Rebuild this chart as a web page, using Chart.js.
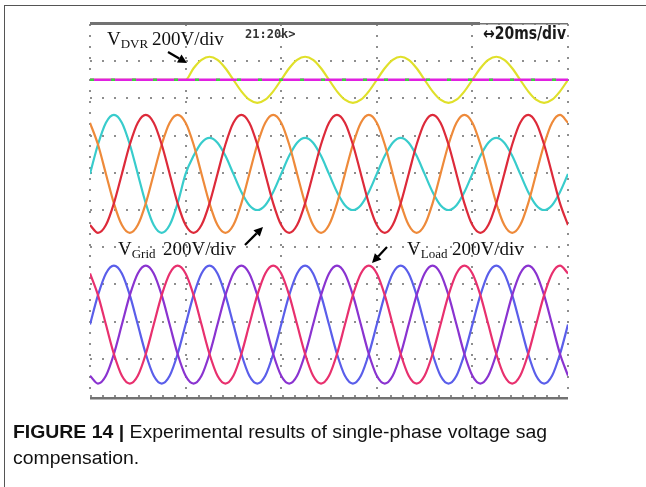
<!DOCTYPE html>
<html>
<head>
<meta charset="utf-8">
<script src="https://cdn.jsdelivr.net/npm/chart.js@4.4.1/dist/chart.umd.min.js"></script>
<style>
  html, body { margin: 0; padding: 0; background: #fff; }
  #wrap { position: relative; width: 646px; height: 487px; overflow: hidden; }
  #frame { position: absolute; left: 4px; top: 5px; width: 700px; height: 600px; border-top: 1px solid #555; border-left: 1px solid #555; }
  canvas { position: absolute; left: 0; top: 0; }
  .cap { position: absolute; left: 13px; font-family: "Liberation Sans", Arial, sans-serif; font-size: 18px; line-height: 20px; color: #111; white-space: nowrap; transform-origin: 0 0; }
</style>
</head>
<body>
<div id="wrap">
  <div id="frame"></div>
  <canvas id="scope" width="646" height="487"></canvas>
  <div class="cap" id="cap1" style="top:422px"><b>FIGURE 14 |</b> Experimental results of single-phase voltage sag</div>
  <div class="cap" id="cap2" style="top:448px">compensation.</div>
</div>
<script>
// time axis, ms (20 ms/div, 5 div)
const timeMs = [0, 1.67, 3.33, 5, 6.67, 8.33, 10, 11.67, 13.33, 15, 16.67, 18.33,
  20, 21.67, 23.33, 25, 26.67, 28.33, 30, 31.67, 33.33, 35, 36.67, 38.33,
  40, 41.67, 43.33, 45, 46.67, 48.33, 50, 51.67, 53.33, 55, 56.67, 58.33,
  60, 61.67, 63.33, 65, 66.67, 68.33, 70, 71.67, 73.33, 75, 76.67, 78.33,
  80, 81.67, 83.33, 85, 86.67, 88.33, 90, 91.67, 93.33, 95, 96.67, 98.33, 100];

// V_DVR (V) - zero until the sag starts at 20 ms
const dvrVolts = [0, 0, 0, 0, 0, 0, 0, 0, 0, 0, 0, 0,
  0, 62, 107, 124, 107, 62, 0, -62, -107, -124, -107, -62,
  0, 62, 107, 124, 107, 62, 0, -62, -107, -124, -107, -62,
  0, 62, 107, 124, 107, 62, 0, -62, -107, -124, -107, -62,
  0, 62, 107, 124, 107, 62, 0, -62, -107, -124, -107, -62, 0];

// V_Grid phases (V) - phase A sags after 20 ms
const gridPhaseA = [0, 158, 275, 317, 275, 158, 0, -158, -275, -317, -275, -158,
  0, 97, 168, 194, 168, 97, 0, -97, -168, -194, -168, -97,
  0, 97, 168, 194, 168, 97, 0, -97, -168, -194, -168, -97,
  0, 97, 168, 194, 168, 97, 0, -97, -168, -194, -168, -97,
  0, 97, 168, 194, 168, 97, 0, -97, -168, -194, -168, -97, 0];
const gridPhaseB = [-275, -317, -275, -158, 0, 158, 275, 317, 275, 158, 0, -158,
  -275, -317, -275, -158, 0, 158, 275, 317, 275, 158, 0, -158,
  -275, -317, -275, -158, 0, 158, 275, 317, 275, 158, 0, -158,
  -275, -317, -275, -158, 0, 158, 275, 317, 275, 158, 0, -158,
  -275, -317, -275, -158, 0, 158, 275, 317, 275, 158, 0, -158, -275];
const gridPhaseC = [275, 158, 0, -158, -275, -317, -275, -158, 0, 158, 275, 317,
  275, 158, 0, -158, -275, -317, -275, -158, 0, 158, 275, 317,
  275, 158, 0, -158, -275, -317, -275, -158, 0, 158, 275, 317,
  275, 158, 0, -158, -275, -317, -275, -158, 0, 158, 275, 317,
  275, 158, 0, -158, -275, -317, -275, -158, 0, 158, 275, 317, 275];

// V_Load phases (V) - compensated, full amplitude
const loadPhaseA = [0, 158, 275, 317, 275, 158, 0, -158, -275, -317, -275, -158,
  0, 158, 275, 317, 275, 158, 0, -158, -275, -317, -275, -158,
  0, 158, 275, 317, 275, 158, 0, -158, -275, -317, -275, -158,
  0, 158, 275, 317, 275, 158, 0, -158, -275, -317, -275, -158,
  0, 158, 275, 317, 275, 158, 0, -158, -275, -317, -275, -158, 0];
const loadPhaseB = [-275, -317, -275, -158, 0, 158, 275, 317, 275, 158, 0, -158,
  -275, -317, -275, -158, 0, 158, 275, 317, 275, 158, 0, -158,
  -275, -317, -275, -158, 0, 158, 275, 317, 275, 158, 0, -158,
  -275, -317, -275, -158, 0, 158, 275, 317, 275, 158, 0, -158,
  -275, -317, -275, -158, 0, 158, 275, 317, 275, 158, 0, -158, -275];
const loadPhaseC = [275, 158, 0, -158, -275, -317, -275, -158, 0, 158, 275, 317,
  275, 158, 0, -158, -275, -317, -275, -158, 0, 158, 275, 317,
  275, 158, 0, -158, -275, -317, -275, -158, 0, 158, 275, 317,
  275, 158, 0, -158, -275, -317, -275, -158, 0, 158, 275, 317,
  275, 158, 0, -158, -275, -317, -275, -158, 0, 158, 275, 317, 275];

// reference (zero) traces on the DVR channel
const refTimeMs = [0, 100];
const refVolts = [0, 0];

// screen offset of each channel group (V on a 200 V/div screen)
const dvrOffset = 700;
const gridOffset = 194;
const loadOffset = -616;

function trace(times, volts, offset) {
  return times.map((t, i) => ({ x: t, y: volts[i] + offset }));
}

function wave(label, times, volts, offset, color, order, extra) {
  return Object.assign({
    label: label,
    data: trace(times, volts, offset),
    borderColor: color,
    borderWidth: 2.2,
    pointRadius: 0,
    cubicInterpolationMode: 'monotone',
    fill: false,
    order: order
  }, extra || {});
}

function labelV(ctx, x, y, sub, restX) {
  ctx.fillStyle = '#111';
  ctx.font = '19px "Liberation Serif", "Times New Roman", serif';
  ctx.fillText('V', x, y);
  const w = ctx.measureText('V').width;
  ctx.font = '13px "Liberation Serif", "Times New Roman", serif';
  ctx.fillText(sub, x + w, y + 3);
  ctx.font = '19px "Liberation Serif", "Times New Roman", serif';
  ctx.fillText('200V/div', restX, y);
}

function arrow(ctx, x1, y1, x2, y2) {
  const ang = Math.atan2(y2 - y1, x2 - x1);
  const c = Math.cos(ang), s = Math.sin(ang);
  const head = 9, hw = 4.5;
  ctx.strokeStyle = '#000';
  ctx.fillStyle = '#000';
  ctx.lineWidth = 2.2;
  ctx.beginPath();
  ctx.moveTo(x1, y1);
  ctx.lineTo(x2 - head * c, y2 - head * s);
  ctx.stroke();
  ctx.beginPath();
  ctx.moveTo(x2, y2);
  ctx.lineTo(x2 - head * c + hw * s, y2 - head * s - hw * c);
  ctx.lineTo(x2 - head * c - hw * s, y2 - head * s + hw * c);
  ctx.closePath();
  ctx.fill();
}

const scopeDecor = {
  id: 'scopeDecor',
  afterDraw(chart) {
    const ctx = chart.ctx;
    const a = chart.chartArea;
    ctx.save();
    // top and bottom frame bars of the scope screen
    ctx.fillStyle = '#727272';
    ctx.fillRect(a.left, a.top - 2, 390, 3);
    ctx.fillRect(a.left + 390, a.top - 1, a.right - a.left - 390, 1.5);
    ctx.fillRect(a.left, a.bottom + 1, a.right - a.left, 2.5);

    // scope readouts
    ctx.textBaseline = 'alphabetic';
    ctx.fillStyle = '#333';
    ctx.font = 'bold 12px "DejaVu Sans Mono", monospace';
    ctx.fillText('21:20k>', 245, 38, 60);
    ctx.fillStyle = '#1a1a1a';
    ctx.font = 'bold 17px "DejaVu Sans", sans-serif';
    ctx.fillText('\u219420ms/div', 483, 39, 83);

    // channel labels
    labelV(ctx, 107, 45, 'DVR', 152);
    labelV(ctx, 118, 255, 'Grid', 163);
    labelV(ctx, 407, 255, 'Load', 452);
    arrow(ctx, 168, 52, 187, 63);
    arrow(ctx, 245, 245, 263, 227);
    arrow(ctx, 387, 247, 372, 263);
    ctx.restore();
  }
};

new Chart(document.getElementById('scope').getContext('2d'), {
  type: 'line',
  data: {
    datasets: [
      wave('V_DVR', timeMs, dvrVolts, dvrOffset, '#e0e02a', 5),
      wave('zero', refTimeMs, refVolts, dvrOffset, '#e020e0', 4, { borderWidth: 2.5 }),
      wave('zero 2', refTimeMs, refVolts, dvrOffset, '#3fd03f', 3, { borderWidth: 2.5, borderDash: [4, 17] }),
      wave('Grid A', timeMs, gridPhaseA, gridOffset, '#38cccc', 8),
      wave('Grid C', timeMs, gridPhaseC, gridOffset, '#ee8a3a', 7),
      wave('Grid B', timeMs, gridPhaseB, gridOffset, '#dd2a3a', 6),
      wave('Load A', timeMs, loadPhaseA, loadOffset, '#5a5eea', 11),
      wave('Load B', timeMs, loadPhaseB, loadOffset, '#8a33d0', 10),
      wave('Load C', timeMs, loadPhaseC, loadOffset, '#e8306e', 9)
    ]
  },
  options: {
    responsive: false,
    animation: false,
    devicePixelRatio: 1,
    layout: { padding: { left: 90, right: 78, top: 24, bottom: 91 } },
    plugins: { legend: { display: false }, tooltip: { enabled: false } },
    scales: {
      x: {
        type: 'linear', min: 0, max: 100,
        ticks: { display: false, stepSize: 20 },
        grid: { color: '#8e8e8e', lineWidth: 2, drawTicks: false },
        border: { display: false, dash: [2, 9] }
      },
      y: {
        type: 'linear', min: -1000, max: 1000,
        ticks: { display: false, stepSize: 200 },
        grid: { color: '#8e8e8e', lineWidth: 2, drawTicks: false },
        border: { display: false, dash: [2, 10] }
      }
    }
  },
  plugins: [scopeDecor]
});

// fit caption width to the figure text block
const cap1 = document.getElementById('cap1');
const cap2 = document.getElementById('cap2');
const k = 534 / cap1.getBoundingClientRect().width;
cap1.style.transform = 'scaleX(' + k + ')';
cap2.style.transform = 'scaleX(' + k + ')';
</script>
</body>
</html>
